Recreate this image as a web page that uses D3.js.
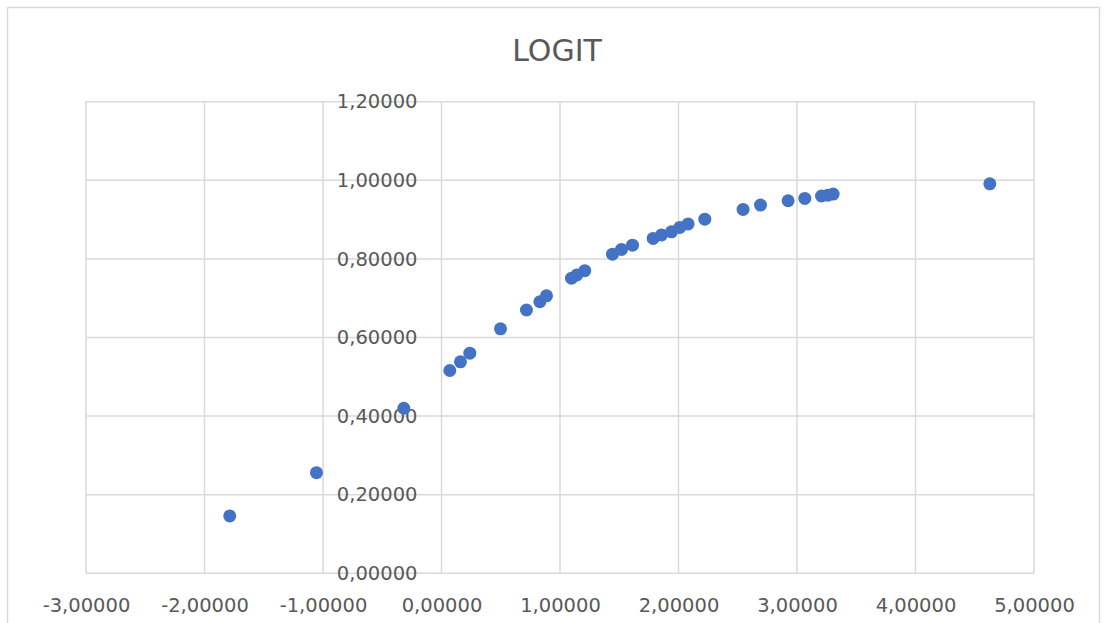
<!DOCTYPE html>
<html>
<head>
<meta charset="utf-8">
<script src="https://cdn.jsdelivr.net/npm/d3@7"></script>
<style>
  html, body { margin: 0; padding: 0; background: #fff; }
  svg { display: block; }
</style>
</head>
<body>
<div id="chart"></div>
<script>
// ========= Data ========= //
const chartTitle = 'LOGIT';
const xValues = [-1.787, -1.055, -0.318, 0.070, 0.160, 0.239, 0.498, 0.717, 0.830, 0.886,
  1.097, 1.142, 1.209, 1.443, 1.519, 1.612, 1.786, 1.857, 1.941, 2.011,
  2.081, 2.222, 2.545, 2.692, 2.925, 3.066, 3.207, 3.260, 3.305, 4.627];
const yValues = [0.146, 0.256, 0.420, 0.516, 0.538, 0.560, 0.622, 0.670, 0.691, 0.706,
  0.751, 0.759, 0.770, 0.812, 0.824, 0.835, 0.852, 0.861, 0.869, 0.880,
  0.889, 0.901, 0.926, 0.937, 0.948, 0.954, 0.960, 0.962, 0.965, 0.991];
const xTicks = [-3, -2, -1, 0, 1, 2, 3, 4, 5];
const yTicks = [0, 0.2, 0.4, 0.6, 0.8, 1.0, 1.2];

// ========= Layout ========= //
const width = 1105;
const height = 623;
const plot = { left: 86, right: 1034, top: 101.7, bottom: 573.3 };

const locale = d3.formatLocale({
  decimal: ',',
  thousands: '.',
  grouping: [3],
  currency: ['', ''],
  minus: '-'
});
const fmt = locale.format('.5f');

// ========= Scales ========= //
const x = d3.scaleLinear().domain([-3, 5]).range([plot.left, plot.right]);
const y = d3.scaleLinear().domain([0, 1.2]).range([plot.bottom, plot.top]);

const points = xValues.map((v, i) => ({ x: v, y: yValues[i] }));

// ========= SVG ========= //
const svg = d3.select('#chart').append('svg')
  .attr('width', width)
  .attr('height', height);

svg.append('rect')
  .attr('x', 7.5)
  .attr('y', 7.5)
  .attr('width', 1092)
  .attr('height', 640)
  .attr('fill', '#fff')
  .attr('stroke', '#d9d9d9')
  .attr('stroke-width', 1.5);

// title
svg.append('text')
  .attr('x', 557)
  .attr('y', 61)
  .attr('text-anchor', 'middle')
  .attr('font-family', 'DejaVu Sans, sans-serif')
  .attr('font-size', 30)
  .attr('fill', '#595959')
  .text(chartTitle);

// ========= Gridlines ========= //
const grid = svg.append('g').attr('class', 'grid');

grid.selectAll('.hgrid')
  .data(yTicks)
  .join('line')
  .attr('class', 'hgrid')
  .attr('x1', plot.left)
  .attr('x2', plot.right)
  .attr('y1', (d) => y(d))
  .attr('y2', (d) => y(d))
  .attr('stroke', '#d9d9d9')
  .attr('stroke-width', 1.5);

grid.selectAll('.vgrid')
  .data(xTicks)
  .join('line')
  .attr('class', 'vgrid')
  .attr('x1', (d) => x(d))
  .attr('x2', (d) => x(d))
  .attr('y1', plot.top)
  .attr('y2', plot.bottom)
  .attr('stroke', '#d9d9d9')
  .attr('stroke-width', 1.5);

// ========= Axes ========= //
const xAxis = svg.append('g')
  .attr('transform', `translate(0 ${plot.bottom + 32})`)
  .call(d3.axisBottom(x).tickValues(xTicks).tickFormat(fmt).tickSize(0).tickPadding(0));

const yAxis = svg.append('g')
  .attr('transform', `translate(${x(0) - 24} 0)`)
  .call(d3.axisLeft(y).tickValues(yTicks).tickFormat(fmt).tickSize(0).tickPadding(0));

[xAxis, yAxis].forEach((ax) => {
  ax.select('.domain').remove();
  ax.selectAll('text')
    .attr('font-family', 'DejaVu Sans, sans-serif')
    .attr('font-size', 19.5)
    .attr('fill', '#595959');
});
xAxis.selectAll('text').attr('dy', '0.35em');

// ========= Points ========= //
svg.append('g')
  .attr('class', 'points')
  .selectAll('circle')
  .data(points)
  .join('circle')
  .attr('cx', (d) => x(d.x))
  .attr('cy', (d) => y(d.y))
  .attr('r', 6.5)
  .attr('fill', '#4472c4');
</script>
</body>
</html>
